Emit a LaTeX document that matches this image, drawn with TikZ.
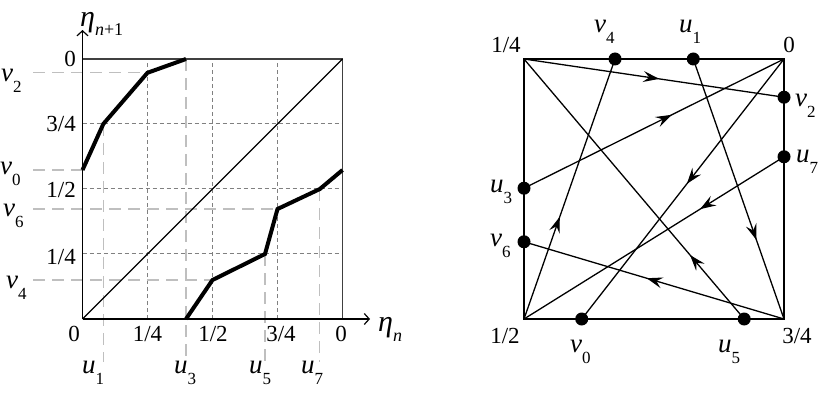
\documentclass[tikz,border=0pt]{standalone}
\usepackage{fontspec}
\setmainfont{Liberation Serif}
\usetikzlibrary{arrows.meta,decorations.markings}
\pgfdeclarelayer{bg}
\pgfsetlayers{bg,main}
\newcommand\numfont{\fontsize{23}{23}\selectfont}
\newcommand\varl[2]{{\fontsize{27}{27}\selectfont\textit{#1}\raisebox{-11pt}{\fontsize{17}{17}\selectfont #2}}}
\newcommand\etafont{\fontsize{30}{30}\selectfont}
\newcommand\subfont{\fontsize{18}{18}\selectfont}
\begin{document}
\begin{tikzpicture}[x=1pt,y=-1pt,
  num/.style={font=\numfont, inner sep=0pt},
  lab/.style={inner sep=0pt},
  gridln/.style={draw=black!50, line width=1pt, dash pattern=on 4pt off 3pt},
  guide/.style={draw=black!25, line width=1.2pt, dash pattern=on 12pt off 7pt},
  curve/.style={line width=4pt},
  dot/.style={circle, fill=black, inner sep=0pt, minimum size=13pt},
  chord/.style={line width=1.3pt},
  axis/.style={line width=1.5pt, -{Straight Barb[length=5pt,width=11pt,line width=1.2pt]}},
  mk/.style={postaction={decorate}, decoration={markings, mark=at position #1 with {\arrow{Stealth[length=16pt,width=11pt,inset=6pt]}}}},
]
\useasboundingbox (0,0) rectangle (822,398);

% ---------------- left plot ----------------
\begin{scope}[xshift=82.5pt, yshift=-319pt, x=260pt, y=260pt]
  \foreach \t in {0.25,0.5,0.75} {
    \draw[gridln] (\t,0) -- (\t,1);
    \draw[gridln] (0,\t) -- (1,\t);
  }
  % guide lines
  \draw[guide] (-0.19,0.947) -- (0.25,0.947);
  \draw[guide] (-0.19,0.573) -- (0,0.573);
  \draw[guide] (-0.19,0.423) -- (0.75,0.423);
  \draw[guide] (-0.19,0.15) -- (0.5,0.15);
  \draw[guide] (0.08,0.75) -- (0.08,-0.165);
  \draw[guide] (0.398,1) -- (0.398,-0.165);
  \draw[guide] (0.702,0.25) -- (0.702,-0.165);
  \draw[guide] (0.913,0.5) -- (0.913,-0.165);
  % frame
  \draw[line width=1.5pt, black!75] (0,1) -- (1,1) -- (1,0);
  \draw[line width=1.1pt] (0,0) -- (1,1);
  \coordinate (O) at (0,0);
  \coordinate (ytip) at (0,1.1115);
  \coordinate (xtip) at (1.106,0);
  \draw[axis] (O) -- (ytip);
  \draw[axis] (O) -- (xtip);
  % map
  \draw[curve] (0,0.573) -- (0.08,0.75) -- (0.25,0.947) -- (0.398,1);
  \draw[curve] (0.398,0) -- (0.5,0.15) -- (0.702,0.25) -- (0.75,0.423) -- (0.913,0.5) -- (1,0.573);
\end{scope}

% left labels
\node[num, anchor=base east] (ly0) at (76,67) {0};
\node[num, anchor=base east] (ly3) at (76,132) {3/4};
\node[num, anchor=base east] (ly2) at (76,198) {1/2};
\node[num, anchor=base east] (ly1) at (76,265) {1/4};
\node[num, anchor=base] (lx0) at (74,341) {0};
\node[num, anchor=base] (lx1) at (147.5,341) {1/4};
\node[num, anchor=base] (lx2) at (213,341) {1/2};
\node[num, anchor=base] (lx3) at (281,341) {3/4};
\node[num, anchor=base] (lx4) at (341,341) {0};
\node[lab, anchor=base west] (lu1) at (82,373) {\varl{u}{1}};
\node[lab, anchor=base west] (lu3) at (174,373) {\varl{u}{3}};
\node[lab, anchor=base west] (lu5) at (249,373) {\varl{u}{5}};
\node[lab, anchor=base west] (lu7) at (301,373) {\varl{u}{7}};
\node[lab, anchor=base west] (lv2) at (1,82) {\varl{v}{2}};
\node[lab, anchor=base west] (lv0) at (0,175) {\varl{v}{0}};
\node[lab, anchor=base west] (lv6) at (3,217) {\varl{v}{6}};
\node[lab, anchor=base west] (lv4) at (6,288) {\varl{v}{4}};
\node[lab, anchor=base west] (eta1) at (80,27) {{\etafont\textit{η}}\raisebox{-9pt}{\subfont\textit{n}+1}};
\node[lab, anchor=base west] (eta0) at (378,331) {{\etafont\textit{η}}\raisebox{-10pt}{\subfont\textit{n}}};

% ---------------- right plot ----------------
\begin{scope}[xshift=524pt, yshift=-319pt, x=260pt, y=260pt]
  \coordinate (c12) at (0,0);
  \coordinate (c14) at (0,1);
  \coordinate (c0) at (1,1);
  \coordinate (c34) at (1,0);
  \node[dot] (v4) at (0.35,1) {};
  \node[dot] (u1) at (0.651,1) {};
  \node[dot] (v2) at (1,0.853) {};
  \node[dot] (u7) at (1,0.624) {};
  \node[dot] (u3) at (0,0.503) {};
  \node[dot] (v6) at (0,0.297) {};
  \node[dot] (v0) at (0.222,0) {};
  \node[dot] (u5) at (0.847,0) {};
  \begin{pgfonlayer}{bg}
    \draw[line width=2pt] (c12) rectangle (c0);
    \draw[chord, mk=0.52] (c14) -- (v2.center);
    \draw[chord, mk=0.568] (u3.center) -- (c0);
    \draw[chord, mk=0.48] (c0) -- (v0.center);
    \draw[chord, mk=0.323] (u7.center) -- (c12);
    \draw[chord, mk=0.696] (u1.center) -- (c34);
    \draw[chord, mk=0.528] (c34) -- (v6.center);
    \draw[chord, mk=0.246] (u5.center) -- (c14);
    \draw[chord, mk=0.393] (c12) -- (v4.center);
  \end{pgfonlayer}
\end{scope}

% right labels
\node[num, anchor=base] (r14) at (506,53) {1/4};
\node[num, anchor=base] (r0) at (789,53) {0};
\node[num, anchor=base] (r12) at (505,343) {1/2};
\node[num, anchor=base] (r34) at (797,343) {3/4};
\node[lab, anchor=base west] (rv4) at (594,33) {\varl{v}{4}};
\node[lab, anchor=base west] (ru1) at (679,33) {\varl{u}{1}};
\node[lab, anchor=base west] (rv2) at (795,107) {\varl{v}{2}};
\node[lab, anchor=base west] (ru7) at (796,163) {\varl{u}{7}};
\node[lab, anchor=base west] (ru3) at (490,193) {\varl{u}{3}};
\node[lab, anchor=base west] (rv6) at (490,247) {\varl{v}{6}};
\node[lab, anchor=base west] (rv0) at (570,352) {\varl{v}{0}};
\node[lab, anchor=base west] (ru5) at (718,352) {\varl{u}{5}};
\end{tikzpicture}
\end{document}
